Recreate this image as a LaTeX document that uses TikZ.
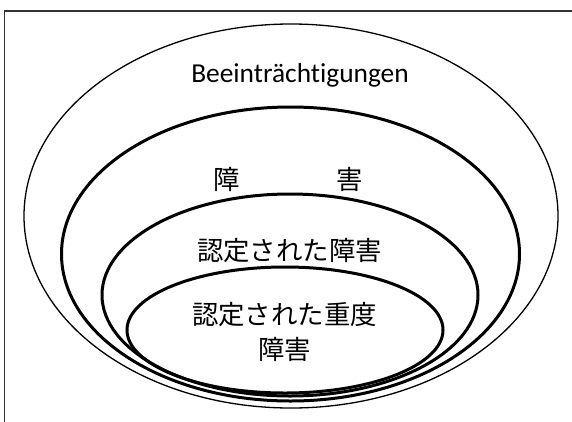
\documentclass[tikz,border=0pt]{standalone}
\usepackage{fontspec}
\setmainfont[Ligatures=NoCommon]{Carlito}
\newfontfamily\jpfont{Noto Sans CJK JP}
\begin{document}
\begin{tikzpicture}[x=1pt,y=-1pt,
  thinring/.style={draw=black,line width=1.3pt},
  thickring/.style={draw=black,line width=3pt},
  frameline/.style={draw=black!80,line width=1.2pt},
  latinlabel/.style={font=\fontsize{27.4}{32}\selectfont,inner sep=0pt},
  jplabel/.style={font=\jpfont\fontsize{26.4}{35}\selectfont,inner sep=0pt,align=center}]
\useasboundingbox (0,0) rectangle (572,421);
\clip (0,0) rectangle (572,421);
\fill[white] (0,0) rectangle (572,421);
\draw[frameline] (4.5,11) rectangle (600,450);
% rings
\draw[thinring] (291,216) ellipse [x radius=267, y radius=192];
\draw[thickring] (290.5,254) ellipse [x radius=229, y radius=147];
\draw[thickring] (290,295) ellipse [x radius=188, y radius=101];
\draw[thickring] (285,330) ellipse [x radius=158, y radius=63];
% labels
\node[latinlabel,anchor=base] (beein) at (300,82) {Beeinträchtigungen};
\node[jplabel] (shogai) at (288.5,179) {障\hspace{96.6pt}害};
\node[jplabel] (nintei) at (289.5,251) {認定された障害};
\node[jplabel] (juudo) at (284.5,332) {認定された重度\\障害};
\end{tikzpicture}
\end{document}
